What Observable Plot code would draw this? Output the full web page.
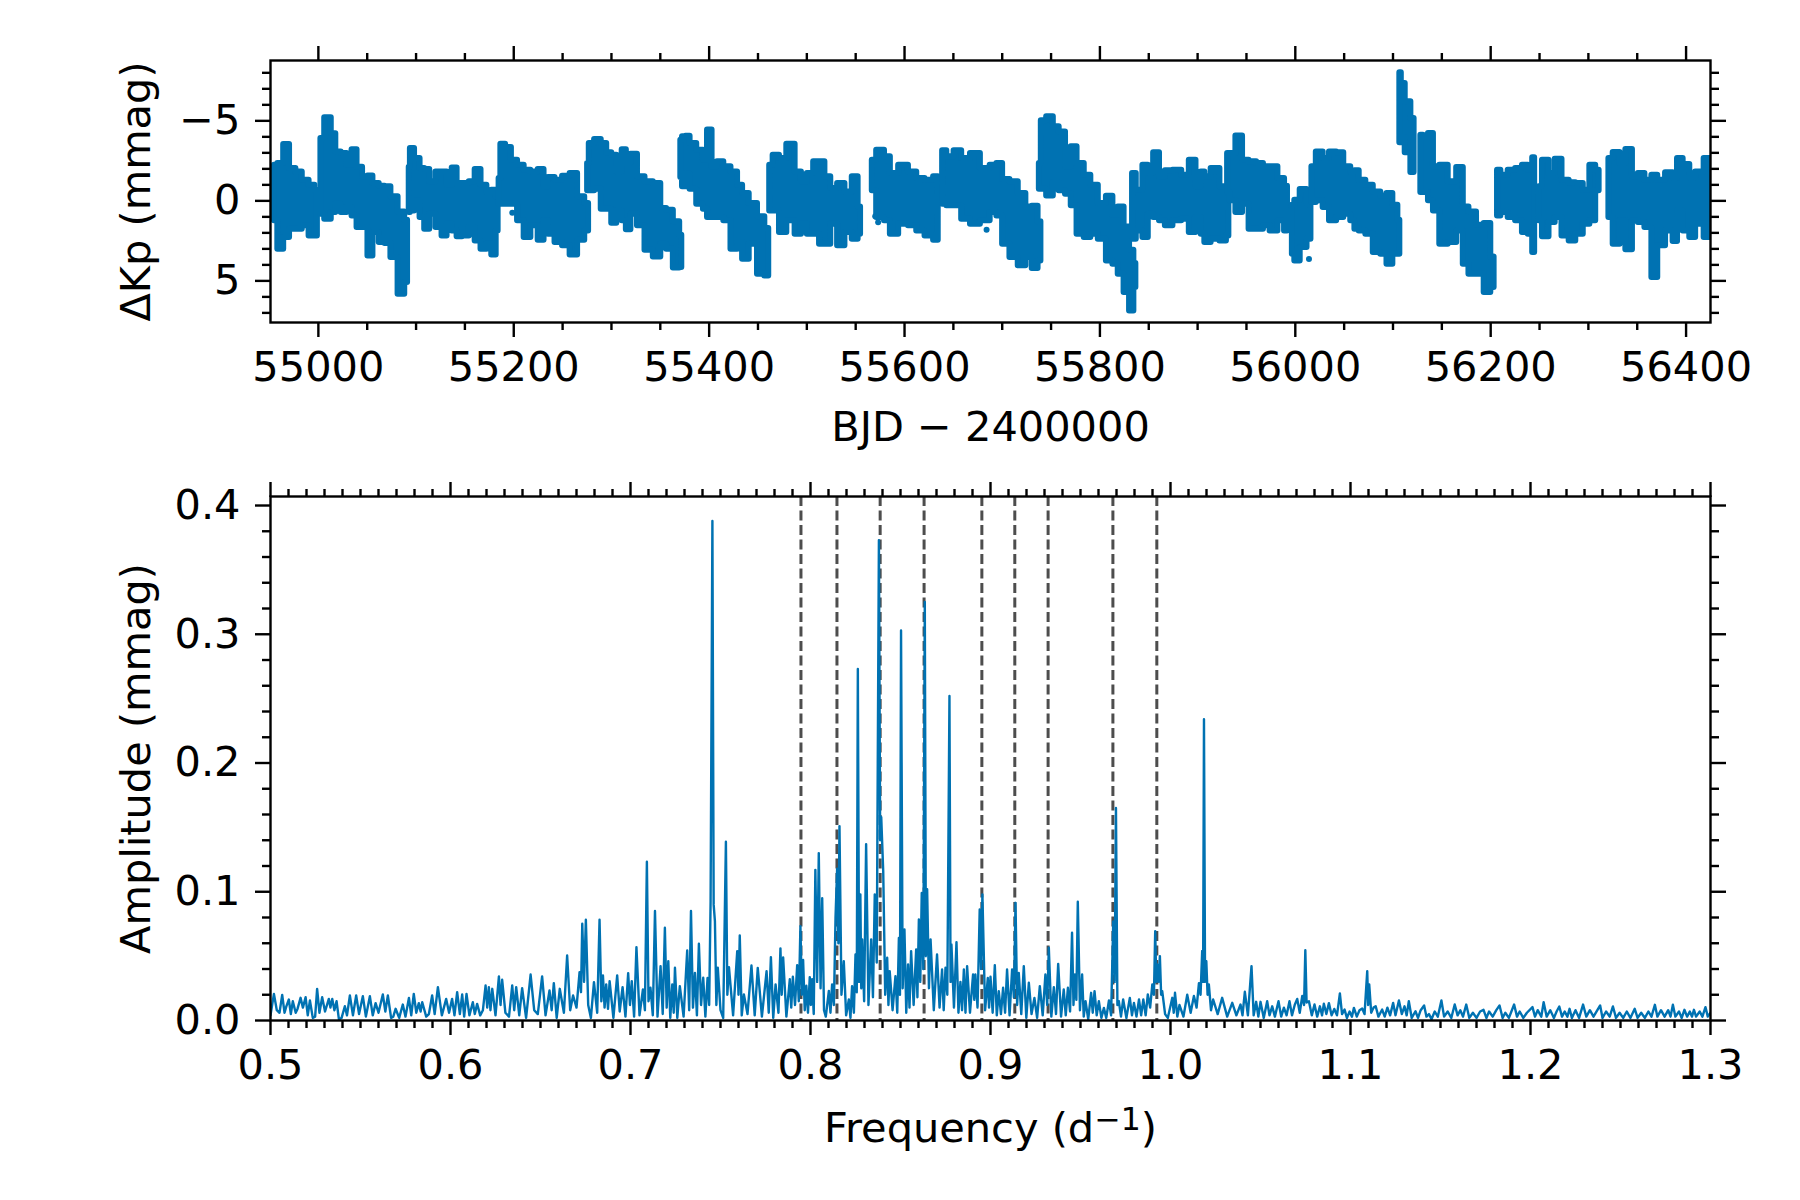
<!DOCTYPE html>
<html>
<head>
<meta charset="utf-8">
<script src="https://cdn.jsdelivr.net/npm/d3@7"></script>
<script src="https://cdn.jsdelivr.net/npm/@observablehq/plot@0.6"></script>
<style>
  html, body { margin: 0; padding: 0; background: #fff; }
  svg { display: block; }
</style>
</head>
<body>
<div id="lc"></div>
<div id="spec"></div>
<script>
// light curve envelope per observing segment: [BJD-2400000, brightest, faintest]
const q01 = [[54955,-2.23,1.25],[54962,-2.33,3.02],[54967,-3.52,2.29],[54974,-2.02,1.77],[54980,-1.81,1.77],[54987,-1.29,1.56],[54994,-0.98,2.19],[54999,-0.67,2.19]];
const q02 = [[55002.6,-3.9,0.83],[55010.4,-5.2,1.15],[55016,-4.2,0.73],[55019.7,-3.06,0.21],[55027,-2.96,0.73],[55031.6,-2.23,0.42],[55037.4,-3.2,0.94],[55041.8,-2.1,1.67],[55048.7,-1.5,1.67],[55052.8,-1.56,3.44],[55058.9,-1.08,1.98],[55065.7,-0.92,2.6],[55070.8,-0.88,2.67],[55077.7,-0.25,3.54],[55085.5,0.69,5.83],[55091.3,1.21,5.1]];
const q03 = [[55093,-2.1,0.73],[55095.4,-3.27,0.63],[55101.5,-2.65,0],[55106.7,-2.02,1.04],[55111,-1.96,1.77],[55117,-1.19,0.83],[55123.7,-1.81,1.67],[55129.5,-1.81,2.19],[55134,-0.98,1.46],[55140,-2.06,1.88],[55144,-1.08,2.25],[55151,-1.08,2.19],[55158,-1.19,1.67],[55163,-1.96,2.5],[55170,-0.98,3.02],[55175,-0.56,2.71],[55180,-0.67,3.38],[55184,-0.25,1.88]];
const q04 = [[55185,-1.4,0.21],[55188.6,-3.54,0.21],[55194.7,-3.33,0.21],[55200.5,-2.54,0.21],[55207.3,-2.23,1.25],[55214,-1.92,2.29],[55221,-1.81,1.56],[55229,-1.96,2.46],[55233,-0.88,1.25],[55238,-1.46,2.08],[55246.5,-1.29,2.6],[55253.4,-1.54,2.81],[55262,-1.71,3.38],[55268.7,-0.25,2.46],[55276.6,0.17,1.88]];
const q05 = [[55275.6,-2.33,-0.63],[55279,-3.58,-0.63],[55286.5,-3.83,-0.73],[55292.6,-3.58,0.52],[55297.7,-3,0.52],[55302.9,-2.85,1.4],[55308,-1.81,0.63],[55314,-3.2,1.25],[55316.5,-2.33,1.81],[55323.3,-2.92,0.83],[55330,-1.5,1.56],[55338.7,-1.19,3.08],[55347,-1.08,3.5],[55354,0.48,2.71],[55359,0.58,3.02],[55367.7,1.31,4.19],[55372,2.15,4.17]];
const q06 = [[55371,-3.79,-1.46],[55374.5,-4,-0.88],[55378,-4.04,-1.67],[55383,-3.58,-0.73],[55391.6,-3.17,0.21],[55396.7,-2.54,0.52],[55400,-4.42,1.04],[55406,-2.13,1.04],[55411,-2.44,1.04],[55419,-2.13,1.25],[55425.7,-1.81,3.02],[55432.5,-0.98,2.5],[55436,-0.46,3.65],[55446,0.17,2.71],[55453,1,4.58],[55461,1.73,4.69]];
const q07 = [[55462,-2.23,0.63],[55469,-2.85,0.63],[55475,-2.65,1.98],[55484,-3.54,1.25],[55492,-1.81,2.08],[55497,-1.19,1.46],[55504,-1.71,2.08],[55510,-2.44,2.08],[55516,-2.44,2.71],[55521,-1.5,2.71],[55528,-0.77,1.46],[55535,-1.08,2.81],[55543,-0.56,1.98],[55550,-1.5,2.4],[55555,0.38,2.08]];
const q08 = [[55567,-2.54,-0.63],[55576,-3.17,1.04],[55583,-2.75,1.25],[55588,-1.71,2.08],[55600,-2.23,1.46],[55608,-1.81,1.56],[55617,-1.4,1.88],[55625,-1.29,2.19],[55634.5,-1.5,2.46]];
const q09 = [[55639,-3.13,0.21],[55647.5,-2.75,0.31],[55654,-3.13,0.31],[55663,-2.65,1.15],[55672,-2.96,1.46],[55683.3,-2.02,1.25],[55692,-2.23,0.73],[55697,-2.33,0.94],[55703.8,-1.33,2.71],[55712,-1.19,3.54],[55720.8,-0.46,4.06],[55727.6,0.38,3.54],[55733.8,0.33,4.23],[55739.6,1.31,3.75]];
const q10 = [[55738,-2.33,-0.73],[55742,-5,-0.73],[55749,-5.25,-0.31],[55755.6,-4.63,-1.15],[55761,-4.31,-0.63],[55768.6,-2.13,-0.42],[55772.7,-3.38,0.31],[55780.5,-2.33,2.08],[55787.4,-1.6,2.29],[55794,-0.98,2.08],[55802.7,0.17,2.4],[55810.6,-0.29,3.75],[55816,0.9,3.96],[55821.5,0.38,4.58],[55828,1.63,5.73],[55832.7,3.08,6.88],[55836.8,3.92,5.42]];
const q11 = [[55833.4,-1.71,2.4],[55841,-0.67,1.88],[55847,-2.23,2.29],[55852,-1.71,0.83],[55858,-3,1.04],[55864,-1.5,1.25],[55870,-1.88,1.56],[55879.5,-1.92,1.25],[55888,-1.6,1.15],[55895,-2.54,1.98],[55901.7,-0.88,1.04],[55905.8,-1.81,2.08],[55909,-1.5,2.6],[55918.7,-2.02,2.4],[55927,-0.88,2.5],[55932,-0.46,2.19]];
const q12 = [[55930.7,-2.96,-0.52],[55935.8,-2.96,0],[55942.6,-4.06,0.73],[55949.4,-2.54,0.21],[55956,-2.44,1.77],[55964.8,-2.33,1.77],[55970,-2.13,1.56],[55978.4,-2.13,1.88],[55986,-1.4,1.25],[55992,-0.92,1.88]];
const q13 = [[55997,0.27,3.33],[56002,-0.04,3.75],[56008,-0.71,2.92],[56016,0.17,2.4]];
const q14 = [[56017,-2.13,0.1],[56026,-3.06,0],[56031,-2.65,0.42],[56039,-3.06,1.25],[56045.7,-3,1.04],[56053.5,-2.13,0.83],[56060,-1.81,1.25],[56062,-1.88,1.77],[56068.8,-1.29,1.88],[56075.6,-0.98,2.08],[56084,-0.56,3.23],[56091,-0.29,3.33],[56096.7,-0.46,3.96],[56103,0.27,3.33],[56107,1.21,3.33]];
const q15 = [[56107,-8,-3.63],[56110,-7.33,-3.96],[56115,-6.19,-3],[56121.6,-5.15,-1.77]];
const q16 = [[56128.5,-4.1,-0.52],[56133.6,-4,-0.52],[56139,-4.21,0],[56143.8,-2.13,0.63],[56152,-2.23,2.71],[56161,-1.19,2.6],[56169.4,-2.08,1.88],[56174.5,0.38,3.96],[56181,0.69,4.58],[56190,1.52,4.58],[56196.7,1.42,5.73],[56203.5,3.5,5.42]];
const q17 = [[56207,-1.92,0.94],[56213.8,-1.6,0.73],[56222,-1.92,1.04],[56229,-2.02,1.25],[56236,-2.23,1.98],[56241,-1.92,2.08],[56245,-2.69,3.23]];
const q18 = [[56249.6,-0.88,1.25],[56256.4,-2.54,2.25],[56263,-1.71,1.35],[56269,-2.6,1.04],[56277,-1.29,2.19],[56283.7,-1.13,2.5],[56290.5,-1.08,2.08],[56299,-0.67,1.46],[56304,-2.23,1.25],[56311,-1.92,-0.63]];
const q19 = [[56321,-2.65,1.04],[56329.8,-3.02,2.71],[56335,-2.33,1.25],[56341.7,-3.21,3.06],[56348.5,-1.5,1.25],[56353.7,-1.71,1.35],[56362,-1.29,1.67],[56368,-1.6,4.79],[56374,-1.29,2.81],[56384,-1.75,1.88],[56389.5,-1.4,2.54],[56393,-2.65,0.63],[56401,-2.27,1.88],[56406.6,-1.4,2.29],[56413,-1.81,1.46],[56424,-2.65,2.29]];
const lcSegments = [q01,q02,q03,q04,q05,q06,q07,q08,q09,q10,q11,q12,q13,q14,q15,q16,q17,q18,q19];
const lcOutliers = [[55198.5,0.75],[55570,0.96],[55573,1.33],[55684,1.81],[56014,3.63]];

// amplitude spectrum: [frequency, amplitude], read peak by peak
const specLow = [[.5,.004],[.5019,.0207],[.5035,.008],[.505,.006],[.5065,.0199],[.5078,.006],[.5088,.011],[.5102,.0163],[.5113,.005],[.5124,.015],[.514,.006],[.515,.009],[.5167,.0176],[.518,.01],[.5195,.0181],[.5207,.004],[.5219,.0155],[.5235,.002],[.5248,.003],[.5259,.0246],[.5272,.006],[.5287,.0181],[.5303,.007],[.5324,.0168],[.5333,.01],[.5343,.0168],[.5355,.008],[.5367,.015],[.538,.001],[.5395,.002],[.5413,.0111],[.5425,.004],[.5441,.0194],[.5458,.004],[.5476,.0194],[.5492,.005],[.5513,.0189],[.553,.003],[.5552,.0189],[.5568,.004],[.5584,.0135],[.56,.006],[.5624,.0202],[.5638,.007],[.5652,.0194],[.567,.002],[.5682,.003],[.5695,.0091],[.5715,.002],[.5735,.0124],[.575,.003],[.5769,.0176],[.5782,.004],[.5796,.0207],[.581,.006],[.5824,.0135],[.5834,.007],[.5843,.0142],[.5865,.003],[.588,.005],[.5898,.0194],[.5912,.005],[.593,.0259],[.5952,.004],[.5976,.0168],[.5992,.006],[.6009,.0168],[.6022,.004],[.6037,.022],[.6052,.005],[.6065,.0202],[.6076,.003],[.6089,.0207],[.6105,.004],[.6124,.0142],[.6135,.005],[.6148,.0129],[.6165,.004],[.618,.008],[.6195,.0272],[.6204,.01],[.6213,.0259],[.6222,.008],[.6232,.0246],[.625,.004],[.6269,.0342],[.6278,.012],[.6287,.0316],[.6305,.006],[.6325,.003],[.6343,.0272],[.6354,.008],[.6365,.0259],[.6382,.004],[.6398,.0251],[.642,.002],[.6445,.0357],[.6465,.008],[.6485,.005],[.6509,.0342],[.6528,.004],[.655,.0233],[.6562,.008],[.6574,.029],[.659,.002],[.6607,.0246],[.663,.006],[.6648,.0505],[.6665,.008],[.6681,.0194],[.67,.01],[.6717,.0376],[.6725,.022],[.6732,.0751],[.6742,.03],[.6752,.0782],[.6765,.012],[.678,.002],[.6797,.0298],[.6815,.006],[.6828,.0782],[.6838,.015],[.6847,.035],[.6856,.01],[.6865,.028],[.6875,.009],[.6884,.0306],[.6905,.002],[.6926,.035],[.694,.007],[.6956,.0259],[.6972,.003],[.6987,.0368],[.6997,.012]];
const specMid = [[.7007,.0306],[.702,.003],[.7033,.057],[.705,.004],[.7069,.0241],[.708,.008],[.7091,.1233],[.71,.015],[.7111,.0254],[.7124,.004],[.7136,.085],[.715,.003],[.7167,.0422],[.7179,.005],[.7191,.072],[.7201,.01],[.721,.0461],[.7221,.002],[.7232,.028],[.724,.006],[.7247,.041],[.726,.002],[.7274,.0267],[.7295,.003],[.7315,.0544],[.7326,.008],[.7336,.085],[.7347,.01],[.7358,.037],[.7369,.004],[.738,.0596],[.7392,.012],[.7404,.0332],[.7416,.003],[.7428,.033],[.7437,.012],[.7445,.0927],[.7455,.388],[.7462,.09],[.7469,.0772],[.7477,.012],[.7485,.041],[.75,.008],[.7515,.002],[.753,.1388],[.7538,.02],[.7547,.0414],[.757,.004],[.7593,.0539],[.76,.02],[.7607,.066],[.7618,.004],[.763,.0202],[.765,.005],[.7672,.0427],[.769,.004],[.7707,.0409],[.773,.003],[.7756,.0383],[.7768,.006],[.778,.0492],[.7793,.002],[.7806,.028],[.7822,.006],[.7833,.056],[.784,.02],[.7848,.049],[.7866,.003],[.7885,.032],[.7893,.01],[.7902,.034],[.7914,.012],[.7926,.043],[.7935,.015],[.7944,.0733],[.7952,.02],[.7959,.047],[.7968,.008],[.7977,.027],[.7986,.006],[.7996,.0337],[.8002,.012],[.8009,.032],[.8018,.005],[.8027,.117],[.8037,.03],[.8046,.13],[.8056,.025],[.8065,.095],[.8075,.008],[.8085,.003],[.8102,.023],[.8111,.006],[.812,.028],[.813,.012],[.8139,.08],[.8148,.118],[.8155,.06],[.8161,.151],[.8172,.02],[.8185,.046],[.8198,.004],[.8213,.0163],[.8222,.002],[.8231,.0267],[.8241,.006],[.825,.0513],[.8257,.022],[.8263,.273],[.827,.03],[.8277,.098],[.8282,.025],[.8287,.063],[.8298,.015],[.8309,.137],[.8322,.012],[.8337,.063],[.8347,.018],[.8357,.098],[.8368,.045],[.838,.373],[.8387,.14],[.8393,.158],[.8404,.116],[.8415,.02],[.8426,.0487],[.8433,.012],[.844,.0383],[.8456,.008],[.8472,.0344],[.8482,.006],[.8491,.0642],[.8497,.02],[.8503,.303],[.8512,.025],[.8522,.0707],[.8532,.006],[.8542,.0435],[.855,.01],[.8559,.0539],[.8573,.012],[.8587,.0552],[.8594,.018],[.8602,.0785],[.861,.03],[.8618,.099],[.8627,.04],[.8635,.325],[.8641,.05],[.8648,.102],[.8658,.025],[.8667,.063],[.8685,.008],[.8703,.0513],[.8717,.01],[.8731,.0396],[.874,.008],[.875,.041],[.876,.02],[.8772,.252],[.8778,.03],[.8783,.059],[.8797,.01],[.8811,.0609],[.8822,.006],[.8833,.03],[.8842,.008],[.8852,.0396],[.8861,.006],[.887,.0422],[.8886,.006],[.8903,.0357],[.891,.016],[.8916,.0357],[.8928,.01],[.894,.0862],[.8948,.04],[.8955,.098],[.897,.008],[.8985,.033],[.8992,.01],[.9,.034],[.9012,.006],[.9024,.043],[.9035,.004],[.9046,.0228],[.9058,.005],[.907,.0254],[.9081,.006],[.9092,.0396],[.9106,.004],[.912,.0396],[.913,.018],[.9139,.0914],[.9148,.012],[.9157,.037],[.9171,.005],[.9185,.0422],[.9199,.002],[.9213,.0293],[.9228,.005],[.9244,.0176],[.9259,.002],[.9274,.0267],[.929,.004],[.9305,.0357],[.9315,.012],[.9324,.0565],[.9338,.003],[.9352,.0259],[.9364,.005],[.9376,.044],[.9392,.003],[.9407,.0241],[.9418,.004],[.943,.0254],[.9442,.007],[.9453,.0681],[.9461,.012],[.9469,.0357],[.9477,.016],[.9485,.0922],[.9497,.008],[.9509,.0357],[.9518,.003],[.9528,.015],[.9543,.001],[.9559,.0215],[.9568,.006],[.9578,.0228],[.959,.004],[.9602,.015],[.9616,.002],[.963,.0098],[.9643,.002],[.9658,.0155],[.967,.004],[.9682,.077],[.969,.03],[.9697,.165],[.9705,.012],[.9713,.015],[.9725,.003],[.9737,.0163],[.9755,.002],[.9774,.0176],[.9786,.004],[.9797,.0137],[.9811,.003],[.9825,.0163],[.9837,.004],[.9849,.0163],[.9862,.004],[.9874,.0202],[.9887,.01],[.9899,.028],[.9908,.02],[.9915,.0694],[.9921,.03],[.9926,.0435],[.9934,.03],[.9941,.05],[.9948,.02],[.9954,.0228],[.997,.005],[.9985,.002]];
const specHigh = [[1.001,.0176],[1.0018,.006],[1.0025,.0215],[1.0038,.003],[1.005,.012],[1.0072,.003],[1.0093,.02],[1.0112,.006],[1.013,.019],[1.0145,.01],[1.0158,.029],[1.0167,.02],[1.0176,.054],[1.0181,.03],[1.0186,.234],[1.0192,.03],[1.0199,.046],[1.0206,.02],[1.0213,.028],[1.0225,.008],[1.0237,.0163],[1.0262,.005],[1.0287,.0176],[1.0315,.003],[1.0343,.0137],[1.0366,.004],[1.0389,.0124],[1.04,.004],[1.0413,.0223],[1.043,.004],[1.045,.0422],[1.0462,.004],[1.0476,.0145],[1.0488,.003],[1.05,.0145],[1.0518,.002],[1.0537,.015],[1.055,.004],[1.0565,.011],[1.058,.003],[1.06,.015],[1.0615,.003],[1.063,.01],[1.0645,.004],[1.0661,.015],[1.0675,.004],[1.069,.012],[1.0704,.0168],[1.0718,.006],[1.0732,.019],[1.0742,.012],[1.0749,.0546],[1.0756,.014],[1.0769,.015],[1.0785,.004],[1.08,.0124],[1.0815,.003],[1.083,.011],[1.0842,.004],[1.0852,.013],[1.0866,.005],[1.088,.0135],[1.0895,.004],[1.091,.009],[1.0925,.004],[1.0941,.021],[1.0953,.005],[1.0967,.0085],[1.098,.002],[1.0995,.007],[1.1008,.003],[1.1019,.0098],[1.1035,.003],[1.105,.008],[1.1065,.0093],[1.1078,.005],[1.1093,.0383],[1.1098,.012],[1.1104,.028],[1.1115,.006],[1.1128,.01],[1.114,.0111],[1.1155,.003],[1.1176,.0085],[1.119,.003],[1.1205,.01],[1.122,.004],[1.1237,.0137],[1.125,.004],[1.1269,.0155],[1.1285,.005],[1.13,.011],[1.1312,.004],[1.1324,.015],[1.134,.002],[1.1361,.0072],[1.1375,.002],[1.139,.008],[1.1409,.0117],[1.1422,.003],[1.1436,.005],[1.145,.001],[1.1468,.007],[1.1485,.003],[1.1505,.0155],[1.152,.003],[1.154,.007],[1.156,.002],[1.1579,.0124],[1.1595,.004],[1.161,.008],[1.1625,.003],[1.1643,.0124],[1.166,.002],[1.168,.006],[1.17,.002],[1.172,.007],[1.1739,.0083],[1.1755,.002],[1.177,.007],[1.179,.003],[1.181,.008],[1.1828,.0117],[1.1845,.002],[1.186,.006],[1.188,.002],[1.1909,.0124],[1.1925,.003],[1.194,.007],[1.196,.002],[1.198,.006],[1.2011,.0104],[1.2025,.003],[1.204,.008],[1.206,.003],[1.2073,.0142],[1.209,.003],[1.211,.008],[1.213,.002],[1.2145,.007],[1.216,.0109],[1.2175,.003],[1.219,.007],[1.2205,.003],[1.2217,.0091],[1.223,.002],[1.225,.008],[1.227,.002],[1.2292,.0124],[1.231,.003],[1.233,.008],[1.235,.003],[1.2387,.0117],[1.24,.002],[1.242,.007],[1.244,.003],[1.2458,.0109],[1.2475,.002],[1.2495,.006],[1.2515,.002],[1.2535,.007],[1.2555,.002],[1.2579,.0091],[1.2595,.002],[1.2615,.006],[1.2635,.002],[1.2655,.007],[1.2672,.003],[1.2691,.0122],[1.2705,.003],[1.2725,.008],[1.2745,.003],[1.2765,.008],[1.2778,.003],[1.2791,.0122],[1.2805,.003],[1.2825,.007],[1.284,.002],[1.2855,.0083],[1.287,.003],[1.2885,.007],[1.2897,.003],[1.2908,.0083],[1.292,.003],[1.294,.007],[1.2955,.003],[1.2972,.0104],[1.2985,.003],[1.3,.006]];
const combFreqs = [.7947,.8147,.8387,.8631,.8952,.9135,.932,.968,.9924];

const lcXMajor = [55000,55200,55400,55600,55800,56000,56200,56400];
const lcXMinor = [55050,55100,55150,55250,55300,55350,55450,55500,55550,55650,55700,55750,55850,55900,55950,56050,56100,56150,56250,56300,56350];
const lcYMajor = [-5,0,5];
const lcYMinor = [-8,-7,-6,-4,-3,-2,-1,1,2,3,4,6,7];
const spXMajor = [.5,.6,.7,.8,.9,1,1.1,1.2,1.3];
const spXMinor = d3.range(50,131).filter((d) => d % 10 !== 0).map((d) => d / 100);
const spYMajor = [0,.1,.2,.3,.4];
const spYMinor = [.02,.04,.06,.08,.12,.14,.16,.18,.22,.24,.26,.28,.32,.34,.36,.38];

const blue = "#0072b2",
  fontStyle = { fontFamily: "DejaVu Sans", fontSize: "41.5px", background: "#fff", overflow: "visible" },
  major = 15,
  minor = 8,
  lw = 2.4,
  blank = () => "";

// one pair of major/minor tick sets on all four sides
function frameAxes(xMajor, xMinor, yMajor, yMinor, xFmt, yFmt, xLabel, yLabel, xOffset, yOffset) {
  const common = { strokeWidth: lw, label: null };
  return [
    Plot.axisX({ ...common, anchor: "bottom", ticks: xMajor, tickSize: major, tickPadding: 14, tickFormat: xFmt, label: xLabel, labelAnchor: "center", labelArrow: "none", labelOffset: xOffset }),
    Plot.axisX({ ...common, anchor: "bottom", ticks: xMinor, tickSize: minor, tickFormat: blank }),
    Plot.axisX({ ...common, anchor: "top", ticks: xMajor, tickSize: major, tickFormat: blank }),
    Plot.axisX({ ...common, anchor: "top", ticks: xMinor, tickSize: minor, tickFormat: blank }),
    Plot.axisY({ ...common, anchor: "left", ticks: yMajor, tickSize: major, tickPadding: 15, tickFormat: yFmt, label: yLabel, labelAnchor: "center", labelArrow: "none", labelOffset: yOffset }),
    Plot.axisY({ ...common, anchor: "left", ticks: yMinor, tickSize: minor, tickFormat: blank }),
    Plot.axisY({ ...common, anchor: "right", ticks: yMajor, tickSize: major, tickFormat: blank }),
    Plot.axisY({ ...common, anchor: "right", ticks: yMinor, tickSize: minor, tickFormat: blank }),
  ];
}

const lcRows = lcSegments.flatMap((seg, i) => seg.map(([t, hi, lo]) => ({ t, hi, lo, seg: i })));
const lcDots = lcOutliers.map(([t, v]) => ({ t, v }));
const specRows = [...specLow, ...specMid, ...specHigh].map(([f, a]) => ({ f, a }));

document.getElementById("lc").append(
  Plot.plot({
    width: 1800,
    height: 470,
    marginTop: 60,
    marginBottom: 148,
    marginLeft: 270,
    marginRight: 90,
    style: fontStyle,
    x: { domain: [54951, 56425] },
    y: { domain: [-8.77, 7.6], range: [60, 322] },
    marks: [
      Plot.areaY(lcRows, { x: "t", y1: "hi", y2: "lo", z: "seg", curve: "step", fill: blue, stroke: blue, strokeWidth: 6, strokeLinejoin: "round", clip: "frame" }),
      Plot.dot(lcDots, { x: "t", y: "v", r: 3, fill: blue, clip: "frame" }),
      ...frameAxes(lcXMajor, lcXMinor, lcYMajor, lcYMinor, (d) => String(d), (d) => d3.format("")(d).replace("-", "−"), "BJD − 2400000", "ΔKp (mmag)", 118, 150),
      Plot.frame({ stroke: "#000", strokeWidth: lw }),
    ],
  })
);

const specPlot = Plot.plot({
  width: 1800,
  height: 730,
  marginTop: 26,
  marginBottom: 180,
  marginLeft: 270,
  marginRight: 90,
  style: fontStyle,
  x: { domain: [0.5, 1.3] },
  y: { domain: [0, 0.407] },
  marks: [
    Plot.ruleX(combFreqs, { stroke: "#4d4d4d", strokeWidth: 3, strokeDasharray: "10,4.5" }),
    Plot.line(specRows, { x: "f", y: "a", stroke: blue, strokeWidth: 2.4, clip: "frame" }),
    ...frameAxes(spXMajor, spXMinor, spYMajor, spYMinor, d3.format(".1f"), d3.format(".1f"), "Frequency (d−1)", "Amplitude (mmag)", 121, 150),
    Plot.frame({ stroke: "#000", strokeWidth: lw }),
  ],
});

// raise the exponent in the x label
d3.select(specPlot)
  .selectAll("text")
  .filter(function () { return this.textContent === "Frequency (d−1)"; })
  .each(function () {
    const t = d3.select(this).text("Frequency (d");
    t.append("tspan").attr("dy", "-0.38em").attr("font-size", "0.76em").text("−1");
    t.append("tspan").attr("dy", "0.29em").attr("font-size", "1em").text(")");
  });

document.getElementById("spec").append(specPlot);
</script>
</body>
</html>
